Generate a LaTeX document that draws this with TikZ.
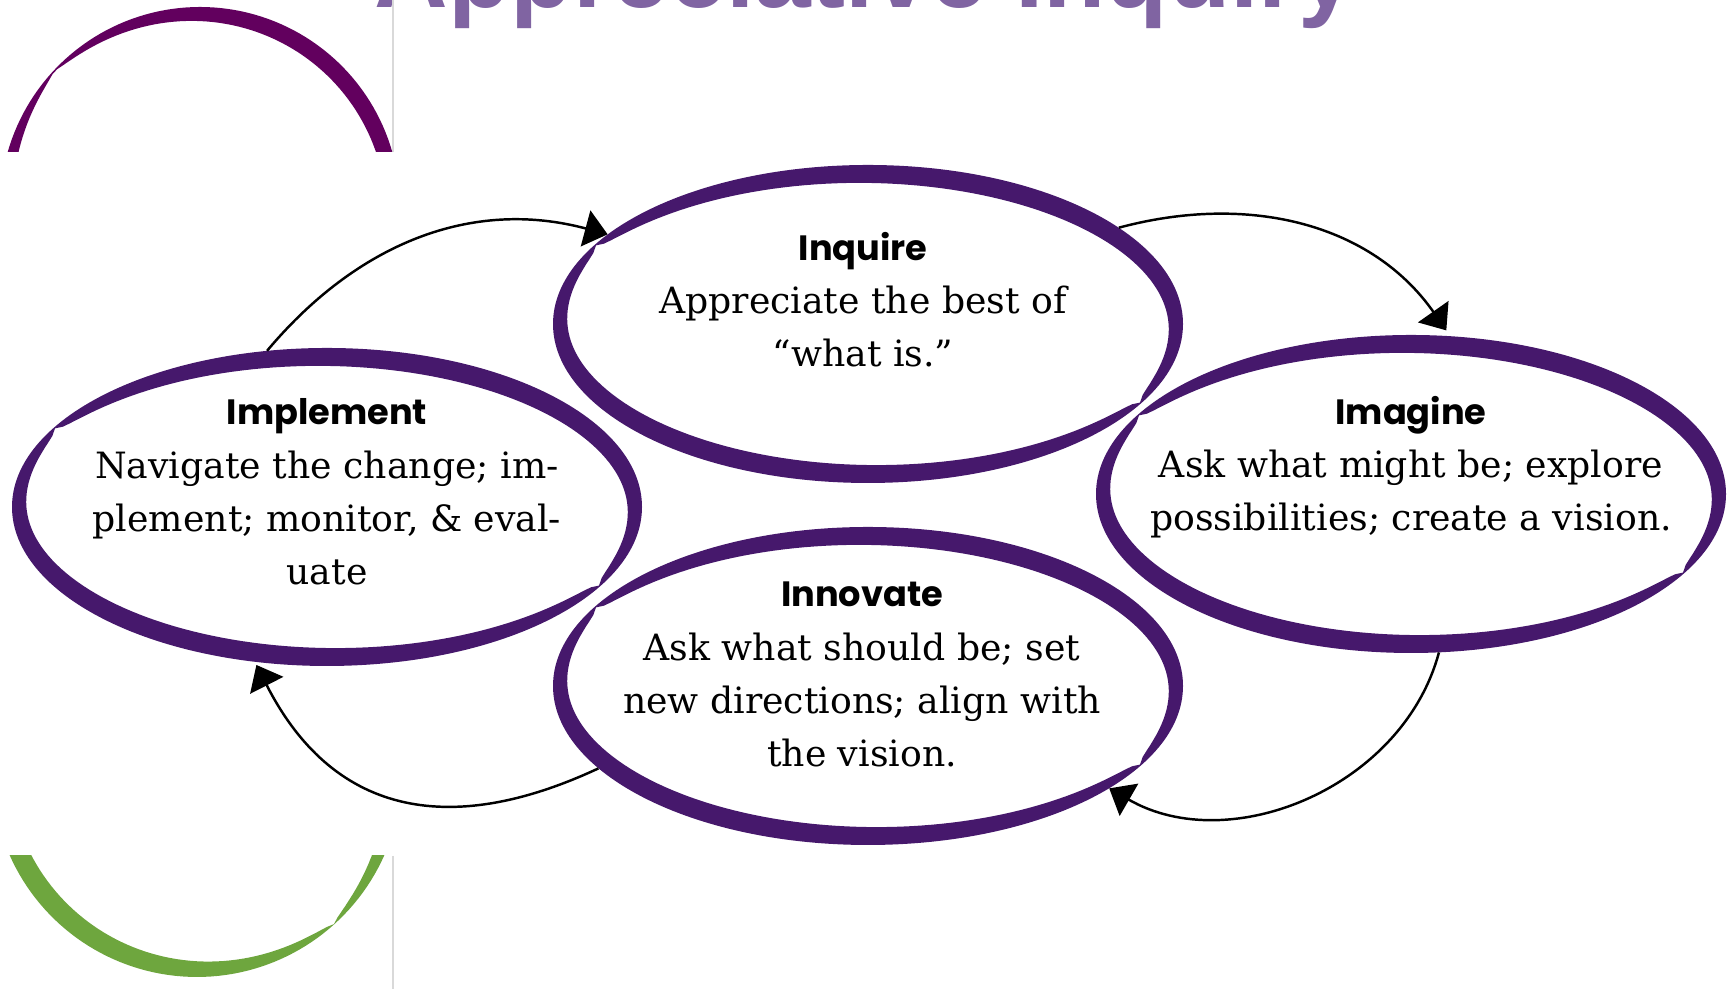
\documentclass[tikz,border=0pt]{standalone}
\usepackage{fontspec}
\setmainfont{DejaVu Serif}
\newfontfamily\headfont{Poppins}
\newfontfamily\titlefont{Liberation Sans}
\usepackage{tikz}
\usetikzlibrary{calc,shapes.geometric,arrows.meta}
\definecolor{ringpurple}{RGB}{70,24,108}
\definecolor{arcpurple}{RGB}{98,0,94}
\definecolor{arcgreen}{RGB}{110,166,62}
\definecolor{titlepurple}{RGB}{128,100,162}
\definecolor{rulegray}{RGB}{217,217,217}
\tikzset{declare function={ringw(\t)=19*pow(abs(sin(\t-150))+0.001,0.4);ringn(\t)=sqrt(cos(\t)^2+3.925*sin(\t)^2);}}
\def\stagering(#1){\fill[ringpurple, even odd rule, shift={(#1)}] (0,0) ellipse (315 and 159) plot[domain=0:360, samples=181, variable=\t] ({(315-ringw(\t)/ringn(\t))*cos(\t)}, {(159-1.981*ringw(\t)/ringn(\t))*sin(\t)}) -- cycle;}
\def\stagehead#1{{\headfont\bfseries\fontsize{10}{15.2}\selectfont #1}}

\begin{document}
\begin{tikzpicture}[x=0.01cm, y=0.01cm,
		stage/.style={ellipse, minimum width=6.3cm, minimum height=3.18cm, inner sep=0pt, outer sep=0pt},
		stagetext/.style={align=center, inner sep=0pt, anchor=base, font=\fontsize{10.3}{15.2}\selectfont},
		flow/.style={-{Triangle[length=6.5pt, width=10.5pt]}, line width=0.7pt}]
		%%%%% START %%%%%
		\useasboundingbox (0,0) rectangle (1733,989);
		
		\node[anchor=base, inner sep=0pt, text=titlepurple, font=\titlefont\bfseries\fontsize{29}{30}\selectfont] (title) at (865,981) {Appreciative Inquiry};
		
		\draw[rulegray, line width=0.6pt] (393,989) -- (393,837);
		\draw[rulegray, line width=0.6pt] (393,133) -- (393,0);
		
		\begin{scope}
			\clip (0,837) rectangle (392,989);
			\fill[arcpurple] plot[domain=10:170, samples=81, variable=\t] ({200+200*cos(\t)}, {782+200*sin(\t)}) -- plot[domain=170:10, samples=81, variable=\t] ({200+(200-17*pow(abs(sin(\t-137))+0.001,0.6))*cos(\t)}, {782+(200-17*pow(abs(sin(\t-137))+0.001,0.6))*sin(\t)}) -- cycle;
		\end{scope}
		\begin{scope}
			\clip (0,0) rectangle (392,133);
			\fill[arcgreen] plot[domain=190:350, samples=81, variable=\t] ({197+205*cos(\t)}, {217+205*sin(\t)}) -- plot[domain=350:190, samples=81, variable=\t] ({197+(205-20*pow(abs(sin(\t-312))+0.001,0.6))*cos(\t)}, {217+(205-20*pow(abs(sin(\t-312))+0.001,0.6))*sin(\t)}) -- cycle;
		\end{scope}
		
		\node[stage] (inquire) at (868,665) {};
		\node[stage] (imagine) at (1411,495) {};
		\node[stage] (innovate) at (868,303) {};
		\node[stage] (implement) at (327,482) {};
		
		\stagering(inquire)
		\stagering(imagine)
		\stagering(innovate)
		\stagering(implement)
		
		% base = last line
		\node[stagetext] (inquire-text) at ($(inquire)+(-5,-43)$) {\stagehead{Inquire}\\Appreciate the best of\\“what is.”};
		\node[stagetext] (imagine-text) at ($(imagine)+(0,-37)$) {\stagehead{Imagine}\\Ask what might be; explore\\possibilities; create a vision.};
		\node[stagetext] (innovate-text) at ($(innovate)+(-6,-81)$) {\stagehead{Innovate}\\Ask what should be; set\\new directions; align with\\the vision.};
		\node[stagetext] (implement-text) at ($(implement)+(0,-78)$) {\stagehead{Implement}\\Navigate the change; im-\\plement; monitor, \& eval-\\uate};
		
		\draw[flow] (implement.111) to[out=50, in=165] (inquire.161);
		\draw[flow, shorten >=2pt] (inquire.21) to[out=15, in=125] (imagine.76);
		\draw[flow] (imagine.280) to[out=255, in=-30] (innovate.337);
		\draw[flow, shorten >=1pt] (innovate.197) to[out=205, in=-63, looseness=1.2] (implement.245);
		%%%%% END %%%%%
	\end{tikzpicture}
\end{document}
